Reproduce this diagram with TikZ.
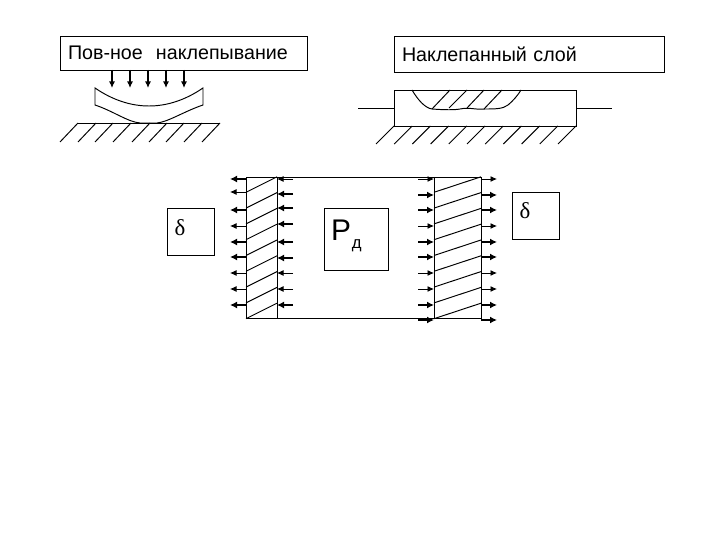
\documentclass[tikz,border=0pt]{standalone}
\usepackage{fontspec}
\setmainfont{Liberation Sans}
\newfontfamily\symfont{Liberation Serif}
\usetikzlibrary{positioning,arrows.meta}
\tikzset{
  textbox/.style={draw,rectangle,inner sep=0pt,inner xsep=0.16cm,align=left,font=\fontsize{11.2}{13}\selectfont},
  symbox/.style={draw,rectangle,minimum width=0.94cm,minimum height=0.94cm,inner sep=0pt},
  thinarrow/.style={-{Latex[length=1.3mm,width=1.2mm]},line width=0.5pt},
  thickarrow/.style={-{Latex[length=1.4mm,width=1.4mm]},line width=1pt},
}
\begin{document}
\begin{tikzpicture}[x=0.02cm,y=-0.02cm,line width=0.55pt]
  \useasboundingbox (0,0) rectangle (720,540);

  % upper left part
  \node[textbox,text width=4.64cm,minimum height=0.68cm] (surfbox) at (184,53) {Пов-ное\ \ наклепывание};
  \foreach \x in {112,130,148,166,184}
    \draw[thinarrow,line width=0.7pt] (\x,70) -- (\x,88);
  \draw (95,88) .. controls (130,112) and (168,112) .. (203,88) -- (203,105)
    .. controls (185,111) and (168,122) .. (157,123) -- (140,123) .. controls (128,122) and (113,111) .. (95,105) -- cycle;
  \draw (78,123) -- (220,123);
  \foreach \x in {78,96,113,131,150,167,184,202,220}
    \draw (\x,123) -- ++(-18,19);

  % upper right part
  \node[textbox,text width=5.1cm,minimum height=0.72cm] (layerbox) at (529.5,54) {Наклепанный слой};
  \draw (394,90) rectangle (576,126);
  \draw (358,108) -- (394,108);
  \draw (576,108) -- (612,108);
  \draw (412,90) .. controls (418,100) and (425,108) .. (432,109) .. controls (445,110) and (455,110) .. (460,109)
    .. controls (470,107) and (475,110) .. (485,109) .. controls (495,109) and (503,109) .. (508,105) .. controls (513,101) and (518,95) .. (521,90);
  \draw (432,109) -- (450,90);
  \draw (449,108) -- (467,90);
  \draw (467,108) -- (484,90);
  \draw (484,109) -- (502,90);
  \foreach \i in {0,...,10}
    \draw ({394+18.2*\i},126) -- ++(-18,18);

  % lower part
  \draw (246,177) rectangle (481,318);
  \draw (277,177) -- (277,318);
  \draw (434,177) -- (434,318);
  \foreach \i in {0,...,8} {
    \draw (246,{192.3+15.8*\i}) -- (277,{176.8+15.8*\i});
    \draw (434,{192.3+15.8*\i}) -- (481,{176.8+15.8*\i});
  }

  % arrows of left band
  \foreach \y in {192,226,273,289}
    \draw[thinarrow] (246,\y) -- (230,\y);
  \foreach \y in {179,210,242,257,305}
    \draw[thickarrow] (246,\y) -- (230,\y);
  \foreach \y in {179,273,289}
    \draw[thinarrow] (293,\y) -- (277,\y);
  \foreach \y in {194,208,224,242,258,305}
    \draw[thickarrow] (293,\y) -- (277,\y);

  % arrows of right band
  \foreach \y in {179,226,273,289} {
    \draw[thinarrow] (418,\y) -- (434,\y);
    \draw[thinarrow] (481,\y) -- (497,\y);
  }
  \foreach \y in {195,210,242,257,305,320} {
    \draw[thickarrow] (418,\y) -- (434,\y);
    \draw[thickarrow] (481,\y) -- (497,\y);
  }

  % boxes
  \node[symbox] (deltaleft) at (190.5,231.5) {};
  \node[font=\symfont\fontsize{13}{13}\selectfont,inner sep=0pt] (deltaltext) at (180,228) {δ};
  \node[symbox,minimum width=1.28cm,minimum height=1.24cm] (forcebox) at (356,239) {};
  \node[font=\fontsize{17}{18}\selectfont,inner sep=0pt] (forcep) at (341,230) {Р};
  \node[font=\fontsize{9.5}{10}\selectfont,inner sep=0pt,right=0cm of forcep,yshift=-0.31cm] (forced) {д};
  \node[symbox] (deltaright) at (535.5,215.5) {};
  \node[font=\symfont\fontsize{13}{13}\selectfont,inner sep=0pt] (deltartext) at (525,211) {δ};
\end{tikzpicture}
\end{document}
